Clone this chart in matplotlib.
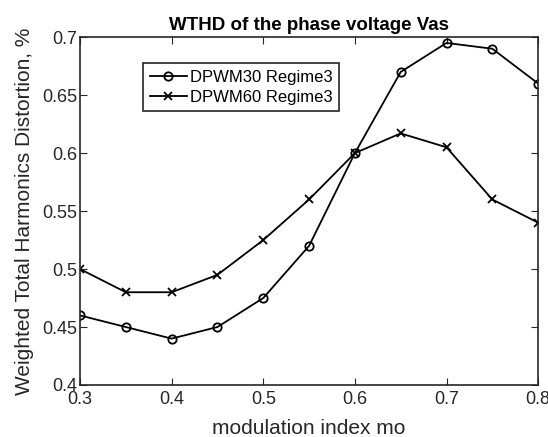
import matplotlib
matplotlib.use("Agg")
import matplotlib.pyplot as plt

# modulation index values
mo = [0.3, 0.35, 0.4, 0.45, 0.5, 0.55, 0.6, 0.65, 0.7, 0.75, 0.8]

# WTHD values, %
dpwm30 = [0.46, 0.45, 0.44, 0.45, 0.475, 0.52, 0.60, 0.67, 0.695, 0.69, 0.66]
dpwm60 = [0.50, 0.48, 0.48, 0.495, 0.525, 0.56, 0.60, 0.617, 0.605, 0.56, 0.54]

x_ticks = [0.3, 0.4, 0.5, 0.6, 0.7, 0.8]
y_ticks = [0.4, 0.45, 0.5, 0.55, 0.6, 0.65, 0.7]

plt.rcParams['font.family'] = ['Liberation Sans', 'DejaVu Sans']

fig = plt.figure(figsize=(5.48, 4.37), dpi=100)
ax = fig.add_axes([0.146, 0.119, 0.836, 0.796])

ax.plot(mo, dpwm30, color='black', marker='o', markersize=6, markerfacecolor='none',
        markeredgewidth=1.3, linewidth=1.3, label='DPWM30 Regime3')
ax.plot(mo, dpwm60, color='black', marker='x', markersize=6,
        markeredgewidth=1.3, linewidth=1.3, label='DPWM60 Regime3')

ax.set_xlim(0.3, 0.8)
ax.set_ylim(0.4, 0.7)
ax.set_xticks(x_ticks)
ax.set_yticks(y_ticks)
ax.set_xticklabels([str(v) for v in x_ticks])
ax.set_yticklabels([f"{v:g}" for v in y_ticks])
ax.tick_params(direction='in', top=True, right=True, labelsize=13, length=5,
               colors='#262626', pad=2)
ax.tick_params(axis='x', pad=4)
for s in ax.spines.values():
    s.set_linewidth(1.2)
    s.set_color('#262626')

ax.set_title('WTHD of the phase voltage Vas', fontsize=13.5, fontweight='bold', pad=5)
ax.set_xlabel('modulation index mo', fontsize=15, labelpad=8, color='#262626')
ax.set_ylabel('Weighted Total Harmonics Distortion, %', fontsize=15, labelpad=6,
              color='#262626')

leg = ax.legend(loc='upper left', bbox_to_anchor=(0.12, 0.95), fontsize=12,
                fancybox=False, edgecolor='#262626', framealpha=1,
                handlelength=2.2, handletextpad=0.2, borderpad=0.4, labelspacing=0.3)
leg.get_frame().set_linewidth(1.2)

fig.savefig('out.png', dpi=100)
